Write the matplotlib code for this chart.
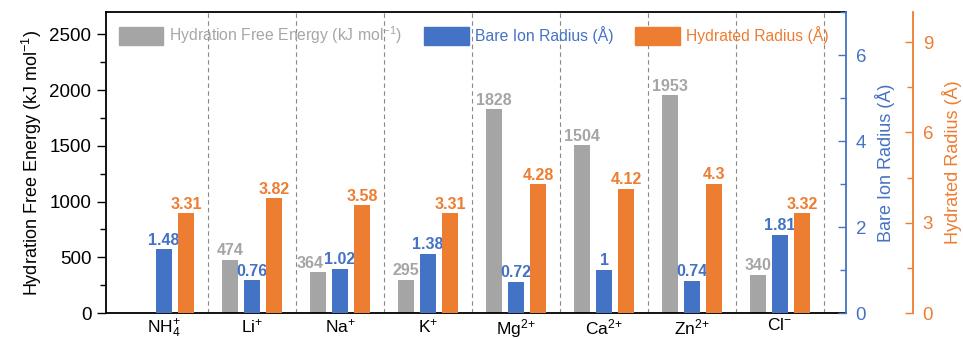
import matplotlib
matplotlib.use("Agg")
import matplotlib.pyplot as plt
from matplotlib.ticker import MultipleLocator
from matplotlib.patches import Patch
import numpy as np

plt.rcParams['font.family'] = ['Liberation Sans', 'DejaVu Sans']
plt.rcParams['mathtext.fontset'] = 'custom'
plt.rcParams['mathtext.rm'] = 'Liberation Sans'
plt.rcParams['mathtext.it'] = 'Liberation Sans:italic'
plt.rcParams['mathtext.bf'] = 'Liberation Sans:bold'

# Data
ions = [r'$\mathrm{NH}_4^{+}$', r'$\mathrm{Li}^{+}$', r'$\mathrm{Na}^{+}$', r'$\mathrm{K}^{+}$',
        r'$\mathrm{Mg}^{2\!+}$', r'$\mathrm{Ca}^{2\!+}$', r'$\mathrm{Zn}^{2\!+}$', r'$\mathrm{Cl}^{-}$']
hydration_energy = [None, 474, 364, 295, 1828, 1504, 1953, 340]   # kJ/mol
bare_radius = [1.48, 0.76, 1.02, 1.38, 0.72, 1.0, 0.74, 1.81]       # Å
hydrated_radius = [3.31, 3.82, 3.58, 3.31, 4.28, 4.12, 4.3, 3.32]   # Å

GREY = '#a5a5a5'
BLUE = '#4472c4'
ORANGE = '#ed7d31'

TICK_FS = 13.5
LABEL_FS = 13
VALUE_FS = 11.5

fig = plt.figure(figsize=(9.63, 3.39), dpi=100)
ax = fig.add_axes([106/963, 26/339, 740/963, 301/339])
ax2 = ax.twinx()
ax3 = ax.twinx()

x = np.arange(len(ions))
w = 0.19
off = 0.25

# Hydration free energy (left axis); the Na+ label is nudged left so it
# clears the neighbouring blue label
for i, (xi, v) in enumerate(zip(x, hydration_energy)):
    if v is None:
        continue
    ax.bar(xi - off, v, width=w, color=GREY, zorder=2)
    dx = -0.09 if i == 2 else 0.0
    ax.text(xi - off + dx, v + 15, f"{v:g}", ha='center', va='bottom',
            color=GREY, fontsize=VALUE_FS, fontweight='bold')

# Bare ion radius (blue axis)
ax2.bar(x, bare_radius, width=w, color=BLUE, zorder=2)
for xi, v in zip(x, bare_radius):
    ax2.text(xi, v + 0.04, f"{v:g}", ha='center', va='bottom',
             color=BLUE, fontsize=VALUE_FS, fontweight='bold')

# Hydrated radius (orange axis)
ax3.bar(x + off, hydrated_radius, width=w, color=ORANGE, zorder=2)
for xi, v in zip(x, hydrated_radius):
    ax3.text(xi + off, v + 0.05, f"{v:g}", ha='center', va='bottom',
             color=ORANGE, fontsize=VALUE_FS, fontweight='bold')

# Category separators
for s in np.arange(0.5, len(ions), 1.0):
    ax.axvline(s, color='#888888', lw=0.8, ls=(0, (4, 3)), zorder=1)

ax.set_xlim(-0.66, 7.75)
ax.set_ylim(0, 2700)
ax2.set_ylim(0, 7)
ax3.set_ylim(0, 10)

ax.set_xticks(x)
ax.set_xticklabels(ions, fontsize=12.5)
ax.tick_params(axis='x', length=0, pad=3)

# Left axis
ax.yaxis.set_major_locator(MultipleLocator(500))
ax.yaxis.set_minor_locator(MultipleLocator(250))
ax.tick_params(axis='y', which='major', direction='out', length=6.5, width=1, labelsize=TICK_FS, pad=4)
ax.tick_params(axis='y', which='minor', direction='out', length=4, width=1)
ax.set_ylabel(r'Hydration Free Energy (kJ $\mathrm{mol}^{-1}$)', fontsize=LABEL_FS, labelpad=4)

for sp in ['left', 'bottom', 'top']:
    ax.spines[sp].set_linewidth(1.3)
    ax.spines[sp].set_color('black')
ax.spines['right'].set_visible(False)

# Blue axis
for sp in ['left', 'top', 'bottom']:
    ax2.spines[sp].set_visible(False)
ax2.spines['right'].set_color(BLUE)
ax2.spines['right'].set_linewidth(1.3)
ax2.yaxis.set_major_locator(MultipleLocator(2))
ax2.yaxis.set_minor_locator(MultipleLocator(1))
ax2.tick_params(axis='y', which='major', direction='in', length=6, width=1,
                colors=BLUE, labelsize=TICK_FS, pad=7)
ax2.tick_params(axis='y', which='minor', direction='in', length=4, width=1, colors=BLUE)
ax2.set_ylabel('Bare Ion Radius (Å)', color=BLUE, fontsize=LABEL_FS, labelpad=6)

# Orange axis
for sp in ['left', 'top', 'bottom']:
    ax3.spines[sp].set_visible(False)
ax3.spines['right'].set_position(('axes', 1.0905))
ax3.spines['right'].set_color(ORANGE)
ax3.spines['right'].set_linewidth(1.3)
ax3.yaxis.set_major_locator(MultipleLocator(3))
ax3.yaxis.set_minor_locator(MultipleLocator(1.5))
ax3.tick_params(axis='y', which='major', direction='in', length=6, width=1,
                colors=ORANGE, labelsize=TICK_FS, pad=7)
ax3.tick_params(axis='y', which='minor', direction='in', length=4, width=1, colors=ORANGE)
ax3.set_ylabel('Hydrated Radius (Å)', color=ORANGE, fontsize=LABEL_FS, labelpad=6)

# Legend
handles = [Patch(color=GREY), Patch(color=BLUE), Patch(color=ORANGE)]
labels = [r'Hydration Free Energy (kJ $\mathrm{mol}^{-1}$)', 'Bare Ion Radius (Å)', 'Hydrated Radius (Å)']
leg = ax3.legend(handles, labels, ncol=3, loc='upper left', bbox_to_anchor=(0.0, 1.0),
                 frameon=False, fontsize=11.3, handlelength=2.85, handleheight=1.35,
                 handletextpad=0.38, columnspacing=1.4, borderaxespad=0.5,
                 borderpad=0.3)
for t, c in zip(leg.get_texts(), ['#a6a6a6', BLUE, ORANGE]):
    t.set_color(c)

fig.savefig('out.png', dpi=100)
